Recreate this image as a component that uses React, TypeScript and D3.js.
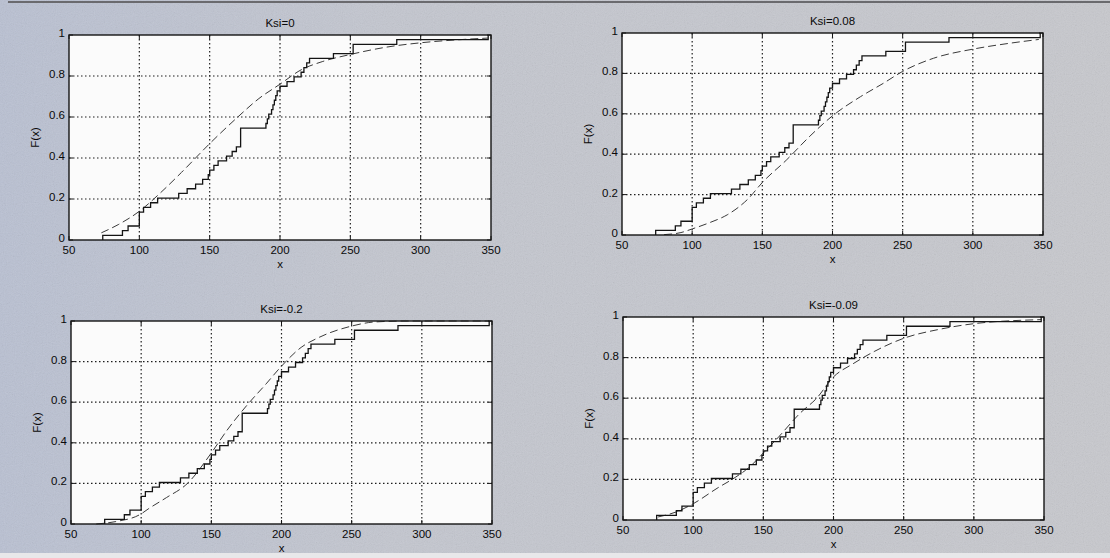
import * as d3 from 'd3'

// observed sample (read from the empirical CDF steps, n = 44)
const sample = [
  74, 88, 92, 100, 100, 100, 103, 108, 113, 128, 134, 140, 145, 149, 150, 153, 156, 162, 166, 169,
  172, 172, 172, 172, 190, 191, 192, 194, 195, 196, 197, 198, 200, 205, 210, 215, 217, 219, 221, 238,
  252, 252, 283, 348,
]

// fitted GEV CDFs (dashed)
const fitKsi0X = [73, 85, 100, 115, 130, 150, 170, 185, 200, 215, 230, 250, 275, 300, 325, 348]
const fitKsi0F = [0.035, 0.075, 0.14, 0.23, 0.33, 0.47, 0.6, 0.69, 0.76, 0.83, 0.87, 0.905, 0.94, 0.962, 0.976, 0.985]

const fitKsi008X = [80, 92, 100, 112, 125, 140, 150, 167, 184, 200, 220, 236, 250, 272, 300, 325, 347]
const fitKsi008F = [0.002, 0.012, 0.03, 0.06, 0.1, 0.18, 0.26, 0.37, 0.49, 0.59, 0.685, 0.75, 0.81, 0.875, 0.92, 0.948, 0.968]

const fitKsiM02X = [68, 82, 100, 105, 118, 133, 150, 161, 176, 189, 199, 214, 227, 250, 266, 290, 348]
const fitKsiM02F = [0.0, 0.012, 0.05, 0.074, 0.13, 0.2, 0.35, 0.46, 0.59, 0.69, 0.77, 0.87, 0.92, 0.975, 0.995, 1.0, 1.0]

const fitKsiM009X = [75, 88, 100, 117, 130, 140, 150, 161, 176, 188, 200, 214, 229, 250, 276, 300, 348]
const fitKsiM009F = [0.015, 0.04, 0.08, 0.156, 0.21, 0.26, 0.33, 0.41, 0.525, 0.6, 0.705, 0.77, 0.83, 0.895, 0.94, 0.967, 0.987]

const titles = ['Ksi=0', 'Ksi=0.08', 'Ksi=-0.2', 'Ksi=-0.09']
const xTicks = [50, 100, 150, 200, 250, 300, 350]
const yTicks = [0, 0.2, 0.4, 0.6, 0.8, 1]
const yTickLabels = ['0', '0.2', '0.4', '0.6', '0.8', '1']

const fits = [
  { xs: fitKsi0X, fs: fitKsi0F },
  { xs: fitKsi008X, fs: fitKsi008F },
  { xs: fitKsiM02X, fs: fitKsiM02F },
  { xs: fitKsiM009X, fs: fitKsiM009F },
]

// axes boxes [left, right, top, bottom]
const boxes = [
  [69, 491, 35, 240],
  [622, 1043, 33, 235],
  [71, 492, 321, 524],
  [623, 1044, 317, 520],
]

const FONT = '"Liberation Sans", Arial, sans-serif'

function ecdfPoints(values: number[]) {
  const sorted = [...values].sort((a, b) => a - b)
  const n = sorted.length
  const pts: [number, number][] = [[sorted[0], 0]]
  let i = 0
  while (i < n) {
    let j = i
    while (j < n && sorted[j] === sorted[i]) j++
    pts.push([sorted[i], j / n])
    i = j
  }
  return pts
}

function Panel({ idx }: { idx: number }) {
  const [l, r, t, b] = boxes[idx]
  const x = d3.scaleLinear().domain([50, 350]).range([l, r])
  const y = d3.scaleLinear().domain([0, 1]).range([b, t])
  const fit = fits[idx]

  const stair = d3
    .line<[number, number]>()
    .x((d) => x(d[0]))
    .y((d) => y(d[1]))
    .curve(d3.curveStepAfter)(ecdfPoints(sample))

  const dashed = d3
    .line<number>()
    .x((d) => x(d))
    .y((_, i) => y(fit.fs[i]))
    .curve(d3.curveMonotoneX)(fit.xs)

  const ink = '#141414'
  return (
    <g>
      <rect x={l} y={t} width={r - l} height={b - t} fill="#fbfbfb" />
      {/* grid */}
      {xTicks.slice(1, -1).map((v) => (
        <line key={'gx' + v} x1={x(v)} x2={x(v)} y1={t} y2={b} stroke="#1e1e1e" strokeWidth={1.2} strokeDasharray="1.5,2.5" />
      ))}
      {yTicks.slice(1, -1).map((v) => (
        <line key={'gy' + v} x1={l} x2={r} y1={y(v)} y2={y(v)} stroke="#1e1e1e" strokeWidth={1.2} strokeDasharray="1.5,2.5" />
      ))}
      {/* fitted cdf */}
      <path d={dashed ?? ''} fill="none" stroke="#3a3a3a" strokeWidth={1} strokeDasharray="8,4" />
      {/* empirical cdf */}
      <path d={stair ?? ''} fill="none" stroke={ink} strokeWidth={1.3} />
      {/* box + ticks */}
      <rect x={l} y={t} width={r - l} height={b - t} fill="none" stroke={ink} strokeWidth={1.4} />
      {xTicks.map((v) => (
        <g key={'tx' + v}>
          <line x1={x(v)} x2={x(v)} y1={b} y2={b - 4} stroke={ink} />
          <line x1={x(v)} x2={x(v)} y1={t} y2={t + 4} stroke={ink} />
          <text x={x(v)} y={b + 14} textAnchor="middle" fontSize={11.5} fontFamily={FONT} fill="#0a0a0a">
            {v}
          </text>
        </g>
      ))}
      {yTicks.map((v, i) => (
        <g key={'ty' + v}>
          <line x1={l} x2={l + 4} y1={y(v)} y2={y(v)} stroke={ink} />
          <line x1={r} x2={r - 4} y1={y(v)} y2={y(v)} stroke={ink} />
          <text x={l - 4} y={y(v) + 2} textAnchor="end" fontSize={11.5} fontFamily={FONT} fill="#0a0a0a">
            {yTickLabels[i]}
          </text>
        </g>
      ))}
      <text x={(l + r) / 2} y={t - 8} textAnchor="middle" fontSize={11.5} fontFamily={FONT} fill="#0a0a0a">
        {titles[idx]}
      </text>
      <text x={(l + r) / 2} y={b + 28} textAnchor="middle" fontSize={11.5} fontFamily={FONT} fill="#0a0a0a">
        x
      </text>
      <text
        transform={`translate(${l - 30},${(t + b) / 2}) rotate(-90)`}
        textAnchor="middle"
        fontSize={11.5}
        fontFamily={FONT}
        fill="#0a0a0a"
      >
        F(x)
      </text>
    </g>
  )
}

export default function App() {
  return (
    <svg
      width={1110}
      height={558}
      style={{ position: 'absolute', left: 0, top: 0, display: 'block' }}
    >
      <defs>
        <linearGradient id="bg" x1="0" y1="0" x2="1" y2="0">
          <stop offset="0" stopColor="#b9c0d2" />
          <stop offset="0.35" stopColor="#c3c6cf" />
          <stop offset="1" stopColor="#c7c8cd" />
        </linearGradient>
        <filter id="grain">
          <feTurbulence type="fractalNoise" baseFrequency="0.9" numOctaves={2} seed={3} />
          <feColorMatrix type="saturate" values="0" />
          <feComponentTransfer>
            <feFuncA type="linear" slope={0.2} />
          </feComponentTransfer>
        </filter>
      </defs>
      <rect width={1110} height={558} fill="url(#bg)" />
      <rect width={1110} height={558} filter="url(#grain)" />
      <line x1={8} x2={1110} y1={2} y2={2} stroke="#6a6a6e" strokeWidth={2} />
      <rect x={0} y={553} width={1110} height={5} fill="#e8e8ea" />
      {boxes.map((_, i) => (
        <Panel key={i} idx={i} />
      ))}
    </svg>
  )
}
